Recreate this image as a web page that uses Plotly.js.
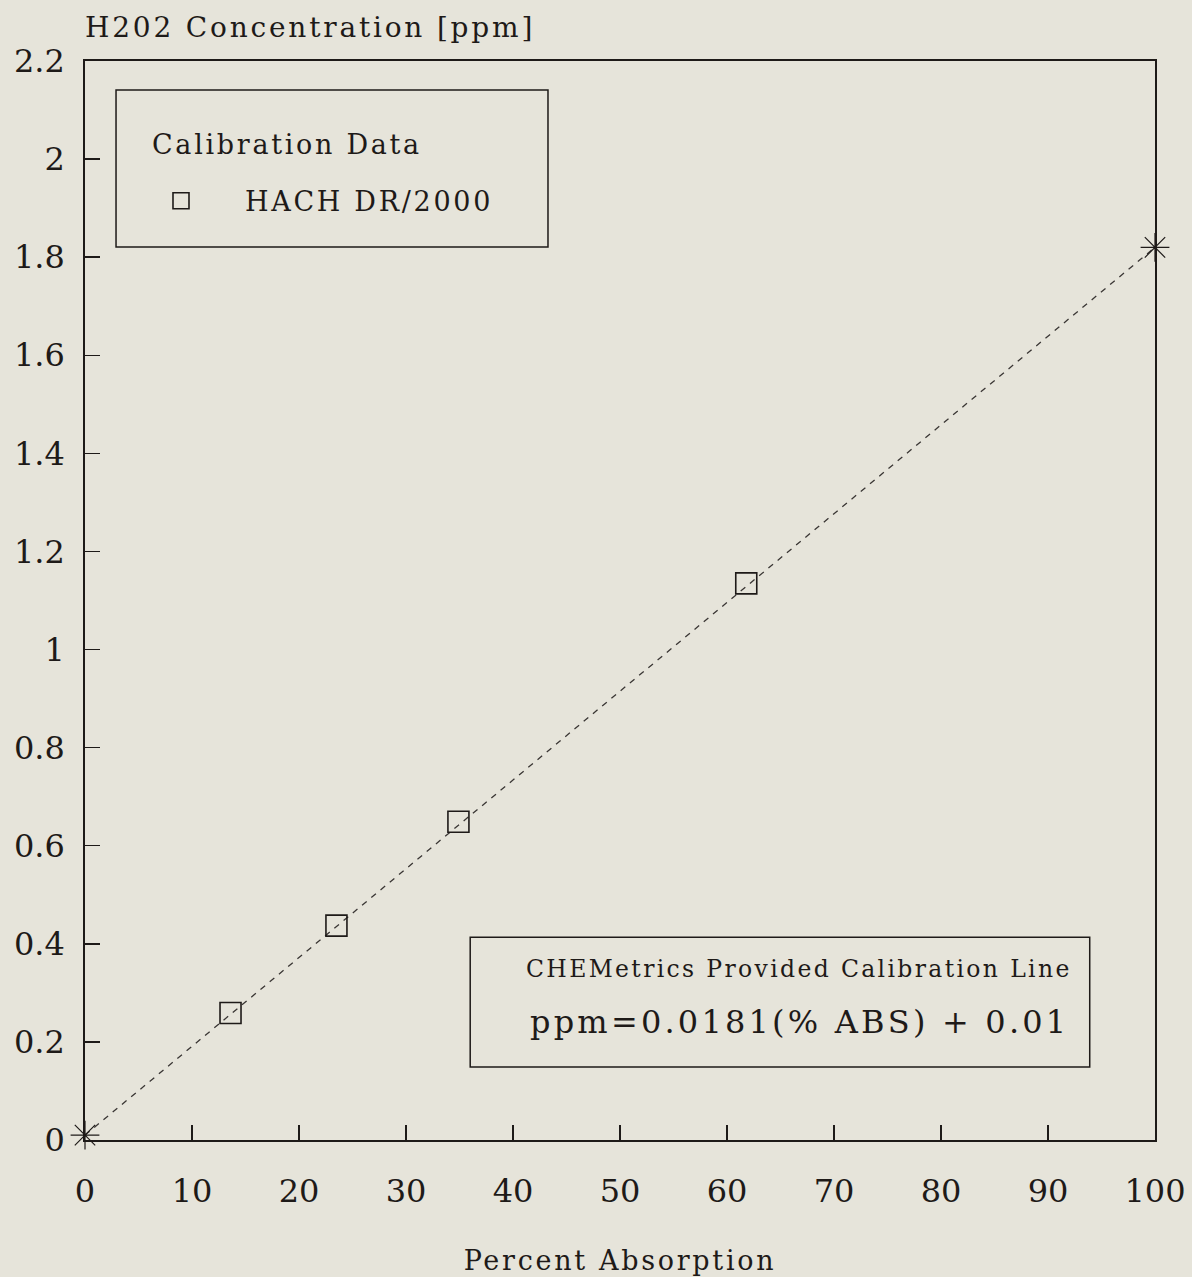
<!DOCTYPE html>
<html>
<head>
<meta charset="utf-8">
<script src="https://cdn.plot.ly/plotly-3.0.1.min.js"></script>
<style>
  html, body { margin: 0; padding: 0; background: #e6e4da; }
  #chart { width: 1192px; height: 1277px; }
  .gtitle, .xtitle, .annotation-text, .legendtext { letter-spacing: 0.1em; }
</style>
</head>
<body>
<div id="chart"></div>
<script>
// Calibration data (HACH DR/2000)
const hachAbs = [13.6, 23.5, 34.9, 61.8];
const hachPpm = [0.259, 0.437, 0.649, 1.135];

// CHEMetrics provided calibration line endpoints
const lineAbs = [0, 100];
const linePpm = [0.01, 1.82];

const yTicks = [0, 0.2, 0.4, 0.6, 0.8, 1, 1.2, 1.4, 1.6, 1.8, 2, 2.2];
const xTicks = [0, 10, 20, 30, 40, 50, 60, 70, 80, 90, 100];

const FONT = '"DejaVu Serif", "Liberation Serif", serif';
const INK = '#1e1a18';
const BG = '#e6e4da';

const traces = [
  {
    x: lineAbs, y: linePpm,
    type: 'scatter', mode: 'lines+markers',
    line: { color: '#3a3634', width: 1.3, dash: '6px,6px' },
    marker: { symbol: 'asterisk-open', size: 24, line: { color: INK, width: 1.2 }, color: INK },
    showlegend: false, hoverinfo: 'skip', cliponaxis: false
  },
  {
    x: hachAbs, y: hachPpm,
    type: 'scatter', mode: 'markers',
    name: 'HACH DR/2000',
    marker: { symbol: 'square-open', size: 21, color: INK, line: { color: INK, width: 1.6 } },
    cliponaxis: false
  }
];

const layout = {
  width: 1192, height: 1277,
  paper_bgcolor: BG, plot_bgcolor: BG,
  margin: { l: 85, r: 37, t: 61, b: 137 },
  font: { family: FONT, color: INK, size: 30 },
  title: {
    text: 'H202 Concentration [ppm]',
    font: { family: FONT, size: 28, color: INK },
    xref: 'paper', x: 0, xanchor: 'left',
    yref: 'container', y: 1 - 27 / 1277, yanchor: 'middle'
  },
  xaxis: {
    range: [0, 100],
    tickvals: xTicks,
    ticks: 'inside', ticklen: 15, tickwidth: 1.5, tickcolor: INK,
    showline: true, linecolor: INK, linewidth: 1.8, mirror: true,
    showgrid: false, zeroline: false,
    tickfont: { family: FONT, size: 32, color: INK },
    ticklabelstandoff: 22,
    title: { text: 'Percent Absorption', font: { family: FONT, size: 27, color: INK }, standoff: 42 }
  },
  yaxis: {
    range: [0, 2.2],
    tickvals: yTicks,
    ticks: 'inside', ticklen: 15, tickwidth: 1.5, tickcolor: INK,
    showline: true, linecolor: INK, linewidth: 1.8, mirror: true,
    showgrid: false, zeroline: false,
    tickfont: { family: FONT, size: 32, color: INK },
    ticklabelstandoff: 12
  },
  showlegend: true,
  legend: {
    x: 0.0299, y: 0.870, xanchor: 'left', yanchor: 'middle',
    bgcolor: 'rgba(0,0,0,0)', borderwidth: 0,
    font: { family: FONT, size: 27, color: INK },
    itemwidth: 118
  },
  shapes: [
    { type: 'rect', xref: 'paper', yref: 'paper', x0: 0.029, x1: 0.4327, y0: 0.8277, y1: 0.9731,
      line: { color: INK, width: 1.5 }, fillcolor: 'rgba(0,0,0,0)' },
    { type: 'rect', xref: 'paper', yref: 'paper', x0: 0.360, x1: 0.939, y0: 0.0677, y1: 0.188,
      line: { color: INK, width: 1.5 }, fillcolor: 'rgba(0,0,0,0)' }
  ],
  annotations: [
    { xref: 'paper', yref: 'paper', x: 0.0607, y: 0.9222, xanchor: 'left', yanchor: 'middle',
      text: 'Calibration Data', showarrow: false,
      font: { family: FONT, size: 27, color: INK } },
    { xref: 'paper', yref: 'paper', x: 0.6673, y: 0.1585, xanchor: 'center', yanchor: 'middle',
      text: 'CHEMetrics Provided Calibration Line', showarrow: false,
      font: { family: FONT, size: 23.5, color: INK } },
    { xref: 'paper', yref: 'paper', x: 0.6673, y: 0.109, xanchor: 'center', yanchor: 'middle',
      text: 'ppm=0.0181(% ABS) + 0.01', showarrow: false,
      font: { family: FONT, size: 32, color: INK } }
  ]
};

Plotly.newPlot('chart', traces, layout, { displayModeBar: false, staticPlot: true });
</script>
</body>
</html>
